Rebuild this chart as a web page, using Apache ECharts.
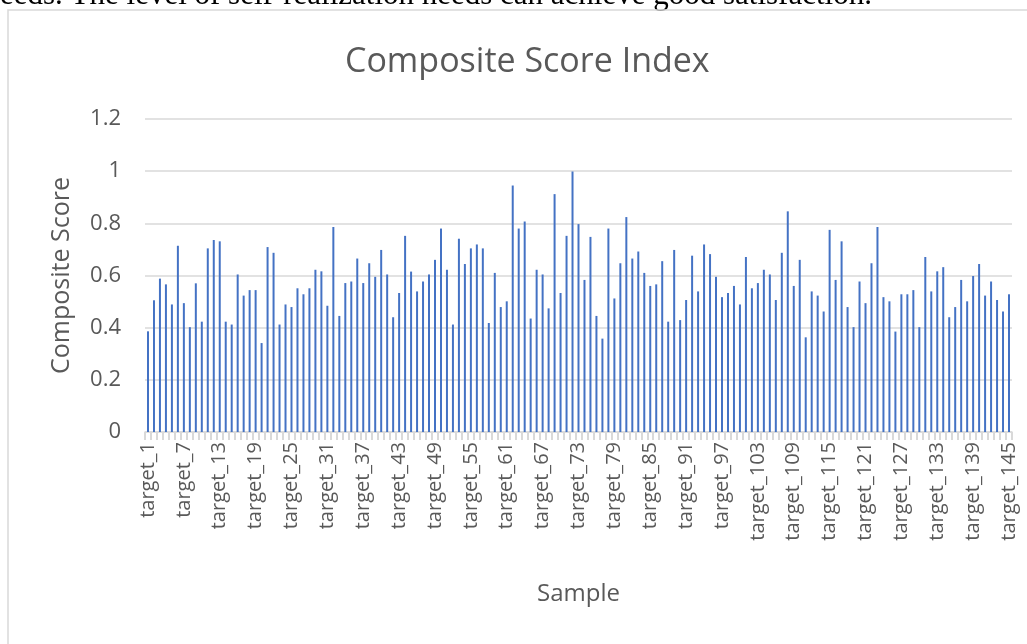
<!DOCTYPE html>
<html>
<head>
<meta charset="utf-8">
<title>Composite Score Index</title>
<script src="https://cdn.jsdelivr.net/npm/echarts@6/dist/echarts.min.js"></script>
<style>
html, body { margin: 0; padding: 0; background: #fff; }
#main { width: 1027px; height: 644px; }
</style>
</head>
<body>
<div id="main"></div>
<script>
// sample names target_1 .. target_145
var categories = [];
for (var i = 1; i <= 145; i++) categories.push('target_' + i);

// composite scores
var scores = [
  0.386, 0.505, 0.588, 0.566, 0.489, 0.714, 0.494, 0.402, 0.570, 0.423,
  0.704, 0.736, 0.731, 0.423, 0.412, 0.604, 0.523, 0.544, 0.544, 0.341,
  0.709, 0.687, 0.412, 0.489, 0.479, 0.551, 0.528, 0.551, 0.622, 0.616,
  0.484, 0.786, 0.445, 0.571, 0.577, 0.665, 0.571, 0.647, 0.595, 0.698,
  0.604, 0.440, 0.533, 0.752, 0.615, 0.539, 0.577, 0.604, 0.660, 0.780,
  0.622, 0.412, 0.741, 0.644, 0.704, 0.719, 0.704, 0.418, 0.610, 0.479,
  0.501, 0.945, 0.780, 0.807, 0.435, 0.622, 0.604, 0.474, 0.912, 0.533,
  0.752, 0.999, 0.797, 0.583, 0.748, 0.445, 0.358, 0.780, 0.512, 0.647,
  0.824, 0.665, 0.692, 0.610, 0.560, 0.566, 0.655, 0.423, 0.698, 0.429,
  0.506, 0.676, 0.539, 0.719, 0.682, 0.595, 0.517, 0.533, 0.560, 0.489,
  0.671, 0.551, 0.571, 0.622, 0.604, 0.506, 0.687, 0.846, 0.560, 0.660,
  0.363, 0.539, 0.523, 0.462, 0.775, 0.583, 0.731, 0.479, 0.402, 0.577,
  0.494, 0.647, 0.786, 0.517, 0.501, 0.385, 0.528, 0.528, 0.544, 0.402,
  0.671, 0.539, 0.616, 0.632, 0.440, 0.479, 0.583, 0.501, 0.598, 0.644,
  0.523, 0.577, 0.506, 0.462, 0.528
];

var yTicks = { min: 0, max: 1.2, step: 0.2 };

var txt = '#595959';
var grey = '#d9d9d9';
var font = 'Open Sans';

var chart = echarts.init(document.getElementById('main'));
var option = {
  animation: false,
  graphic: [
    {
      // tail of the document line above the chart, cut off by the page
      type: 'text',
      left: 0,
      top: -20,
      style: {
        text: 'eeds. The level of self-realization needs can achieve good satisfaction.',
        font: '31px "Liberation Serif"',
        fill: '#000'
      }
    },
    {
      type: 'rect',
      shape: { x: 8, y: 10, width: 1060, height: 700 },
      style: { fill: 'none', stroke: grey, lineWidth: 1.5 }
    }
  ],
  title: {
    text: 'Composite Score Index',
    left: 340,
    top: 40,
    textStyle: { color: txt, fontFamily: font, fontSize: 34, fontWeight: 'normal' }
  },
  grid: { left: 145, right: 15, top: 119, bottom: 212 },
  xAxis: {
    type: 'category',
    data: categories,
    name: 'Sample',
    nameLocation: 'middle',
    nameGap: 150,
    nameTextStyle: { color: txt, fontFamily: font, fontSize: 24 },
    axisLine: { lineStyle: { color: grey, width: 1.5 } },
    axisTick: { show: true, interval: 0, length: 8, lineStyle: { color: grey, width: 2 } },
    axisLabel: {
      interval: 5,
      rotate: 90,
      color: txt,
      fontFamily: font,
      fontSize: 20,
      margin: 10
    }
  },
  yAxis: {
    type: 'value',
    min: yTicks.min,
    max: yTicks.max,
    interval: yTicks.step,
    name: 'Composite Score',
    nameLocation: 'middle',
    nameGap: 71,
    nameTextStyle: { color: txt, fontFamily: font, fontSize: 25 },
    axisLine: { show: false },
    axisTick: { show: false },
    axisLabel: { color: txt, fontFamily: font, fontSize: 22, margin: 24 },
    splitLine: { lineStyle: { color: grey, width: 1.5 } }
  },
  series: [{
    type: 'bar',
    data: scores,
    barWidth: 2,
    itemStyle: { color: '#4472C4' }
  }]
};
chart.setOption(option);
</script>
</body>
</html>
